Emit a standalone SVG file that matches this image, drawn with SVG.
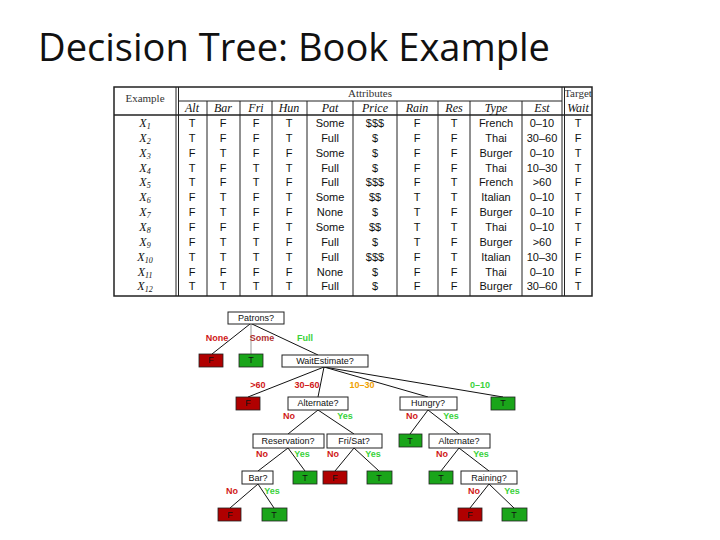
<svg xmlns="http://www.w3.org/2000/svg" width="720" height="540" viewBox="0 0 720 540">
<style>
.t{font-family:"Liberation Sans",Arial,sans-serif;font-size:11px;text-anchor:middle;fill:#111}
.h{font-family:"Liberation Serif",serif;font-size:12px;font-style:italic;text-anchor:middle;fill:#111}
.hs{font-family:"Liberation Serif",serif;font-size:11px;text-anchor:middle;fill:#333}
.b{fill:#fff;stroke:#222;stroke-width:1}
.n{font-family:"Liberation Sans",Arial,sans-serif;font-size:9px;text-anchor:middle;fill:#111}
.lr{fill:#b00000;stroke:#222;stroke-width:0.8}
.lg{fill:#1aa51a;stroke:#222;stroke-width:0.8}
.lab{font-family:"Liberation Sans",Arial,sans-serif;font-size:9px;font-weight:bold;text-anchor:middle}
.red{fill:#d01818}.grn{fill:#3ad23a}.org{fill:#f0a000}.brn{fill:#b03030}
.ln{stroke:#111;stroke-width:1;fill:none}
</style>
<rect width="720" height="540" fill="#fff"/>
<text x="38" y="61" font-family="'Open Sans','Liberation Sans',sans-serif" font-size="38" fill="#111" textLength="512" lengthAdjust="spacingAndGlyphs">Decision Tree: Book Example</text>

<g id="table">
<rect x="114" y="87" width="478" height="209" fill="#fff" stroke="#222" stroke-width="1.5"/>
<g stroke="#222" stroke-width="1">
<line x1="176" y1="87" x2="176" y2="296"/><line x1="178.5" y1="87" x2="178.5" y2="296"/>
<line x1="562" y1="87" x2="562" y2="296"/><line x1="564.5" y1="87" x2="564.5" y2="296"/>
<line x1="178" y1="101" x2="562" y2="101"/>
<line x1="114" y1="115" x2="592" y2="115" stroke-width="1.5"/>
<line x1="207" y1="101" x2="207" y2="296"/><line x1="240" y1="101" x2="240" y2="296"/>
<line x1="272" y1="101" x2="272" y2="296"/><line x1="307" y1="101" x2="307" y2="296"/>
<line x1="353" y1="101" x2="353" y2="296"/><line x1="397" y1="101" x2="397" y2="296"/>
<line x1="438" y1="101" x2="438" y2="296"/><line x1="470" y1="101" x2="470" y2="296"/>
<line x1="522" y1="101" x2="522" y2="296"/>
</g>
<text class="hs" x="145" y="102">Example</text>
<text class="hs" x="370" y="97">Attributes</text>
<text class="hs" x="578" y="97" font-size="10">Target</text>
<g class="h">
<text x="192" y="112">Alt</text><text x="223" y="112">Bar</text><text x="256" y="112">Fri</text><text x="289" y="112">Hun</text><text x="330" y="112">Pat</text><text x="375" y="112">Price</text><text x="417" y="112">Rain</text><text x="454" y="112">Res</text><text x="496" y="112">Type</text><text x="542" y="112">Est</text><text x="578" y="112">Wait</text>
</g>
<g class="h" font-size="12">
<text x="145" y="127">X<tspan font-size="8" dy="2">1</tspan></text>
<text x="145" y="142">X<tspan font-size="8" dy="2">2</tspan></text>
<text x="145" y="157">X<tspan font-size="8" dy="2">3</tspan></text>
<text x="145" y="172">X<tspan font-size="8" dy="2">4</tspan></text>
<text x="145" y="186">X<tspan font-size="8" dy="2">5</tspan></text>
<text x="145" y="201">X<tspan font-size="8" dy="2">6</tspan></text>
<text x="145" y="216">X<tspan font-size="8" dy="2">7</tspan></text>
<text x="145" y="231">X<tspan font-size="8" dy="2">8</tspan></text>
<text x="145" y="246">X<tspan font-size="8" dy="2">9</tspan></text>
<text x="145" y="261">X<tspan font-size="8" dy="2">10</tspan></text>
<text x="145" y="276">X<tspan font-size="8" dy="2">11</tspan></text>
<text x="145" y="290">X<tspan font-size="8" dy="2">12</tspan></text>
</g>
<g class="t">
<text y="127"><tspan x="192">T</tspan><tspan x="223">F</tspan><tspan x="256">F</tspan><tspan x="289">T</tspan><tspan x="330">Some</tspan><tspan x="375">$$$</tspan><tspan x="417">F</tspan><tspan x="454">T</tspan><tspan x="496">French</tspan><tspan x="542">0–10</tspan><tspan x="578">T</tspan></text>
<text y="142"><tspan x="192">T</tspan><tspan x="223">F</tspan><tspan x="256">F</tspan><tspan x="289">T</tspan><tspan x="330">Full</tspan><tspan x="375">$</tspan><tspan x="417">F</tspan><tspan x="454">F</tspan><tspan x="496">Thai</tspan><tspan x="542">30–60</tspan><tspan x="578">F</tspan></text>
<text y="157"><tspan x="192">F</tspan><tspan x="223">T</tspan><tspan x="256">F</tspan><tspan x="289">F</tspan><tspan x="330">Some</tspan><tspan x="375">$</tspan><tspan x="417">F</tspan><tspan x="454">F</tspan><tspan x="496">Burger</tspan><tspan x="542">0–10</tspan><tspan x="578">T</tspan></text>
<text y="172"><tspan x="192">T</tspan><tspan x="223">F</tspan><tspan x="256">T</tspan><tspan x="289">T</tspan><tspan x="330">Full</tspan><tspan x="375">$</tspan><tspan x="417">F</tspan><tspan x="454">F</tspan><tspan x="496">Thai</tspan><tspan x="542">10–30</tspan><tspan x="578">T</tspan></text>
<text y="186"><tspan x="192">T</tspan><tspan x="223">F</tspan><tspan x="256">T</tspan><tspan x="289">F</tspan><tspan x="330">Full</tspan><tspan x="375">$$$</tspan><tspan x="417">F</tspan><tspan x="454">T</tspan><tspan x="496">French</tspan><tspan x="542">&gt;60</tspan><tspan x="578">F</tspan></text>
<text y="201"><tspan x="192">F</tspan><tspan x="223">T</tspan><tspan x="256">F</tspan><tspan x="289">T</tspan><tspan x="330">Some</tspan><tspan x="375">$$</tspan><tspan x="417">T</tspan><tspan x="454">T</tspan><tspan x="496">Italian</tspan><tspan x="542">0–10</tspan><tspan x="578">T</tspan></text>
<text y="216"><tspan x="192">F</tspan><tspan x="223">T</tspan><tspan x="256">F</tspan><tspan x="289">F</tspan><tspan x="330">None</tspan><tspan x="375">$</tspan><tspan x="417">T</tspan><tspan x="454">F</tspan><tspan x="496">Burger</tspan><tspan x="542">0–10</tspan><tspan x="578">F</tspan></text>
<text y="231"><tspan x="192">F</tspan><tspan x="223">F</tspan><tspan x="256">F</tspan><tspan x="289">T</tspan><tspan x="330">Some</tspan><tspan x="375">$$</tspan><tspan x="417">T</tspan><tspan x="454">T</tspan><tspan x="496">Thai</tspan><tspan x="542">0–10</tspan><tspan x="578">T</tspan></text>
<text y="246"><tspan x="192">F</tspan><tspan x="223">T</tspan><tspan x="256">T</tspan><tspan x="289">F</tspan><tspan x="330">Full</tspan><tspan x="375">$</tspan><tspan x="417">T</tspan><tspan x="454">F</tspan><tspan x="496">Burger</tspan><tspan x="542">&gt;60</tspan><tspan x="578">F</tspan></text>
<text y="261"><tspan x="192">T</tspan><tspan x="223">T</tspan><tspan x="256">T</tspan><tspan x="289">T</tspan><tspan x="330">Full</tspan><tspan x="375">$$$</tspan><tspan x="417">F</tspan><tspan x="454">T</tspan><tspan x="496">Italian</tspan><tspan x="542">10–30</tspan><tspan x="578">F</tspan></text>
<text y="276"><tspan x="192">F</tspan><tspan x="223">F</tspan><tspan x="256">F</tspan><tspan x="289">F</tspan><tspan x="330">None</tspan><tspan x="375">$</tspan><tspan x="417">F</tspan><tspan x="454">F</tspan><tspan x="496">Thai</tspan><tspan x="542">0–10</tspan><tspan x="578">F</tspan></text>
<text y="290"><tspan x="192">T</tspan><tspan x="223">T</tspan><tspan x="256">T</tspan><tspan x="289">T</tspan><tspan x="330">Full</tspan><tspan x="375">$</tspan><tspan x="417">F</tspan><tspan x="454">F</tspan><tspan x="496">Burger</tspan><tspan x="542">30–60</tspan><tspan x="578">T</tspan></text>
</g>
</g>

<g id="connectors" class="ln">
<line x1="250" y1="324" x2="212" y2="354"/>
<line x1="251" y1="324" x2="251" y2="354" stroke="#999"/>
<line x1="252" y1="324" x2="318" y2="355"/>
<line x1="324" y1="367" x2="248" y2="397"/>
<line x1="324" y1="367" x2="318" y2="397"/>
<line x1="324" y1="367" x2="428" y2="397"/>
<line x1="324" y1="367" x2="503" y2="397"/>
<line x1="318" y1="410" x2="288" y2="434"/>
<line x1="318" y1="410" x2="354" y2="434"/>
<line x1="428" y1="410" x2="410" y2="434"/>
<line x1="428" y1="410" x2="459" y2="434"/>
<line x1="288" y1="448" x2="258" y2="471"/>
<line x1="288" y1="448" x2="305" y2="471"/>
<line x1="354" y1="448" x2="335" y2="471"/>
<line x1="354" y1="448" x2="379" y2="471"/>
<line x1="459" y1="448" x2="441" y2="471"/>
<line x1="459" y1="448" x2="489" y2="471"/>
<line x1="258" y1="484" x2="230" y2="508"/>
<line x1="258" y1="484" x2="274" y2="508"/>
<line x1="489" y1="484" x2="470" y2="508"/>
<line x1="489" y1="484" x2="514" y2="508"/>
</g>

<g id="edge-labels" class="lab">
<text class="red" x="217" y="341">None</text><text class="brn" x="262" y="341">Some</text><text class="grn" x="305" y="341">Full</text>
<text class="red" x="258" y="388">&gt;60</text><text class="red" x="307" y="388">30–60</text><text class="org" x="362" y="388">10–30</text><text class="grn" x="480" y="388">0–10</text>
<text class="red" x="289" y="419">No</text><text class="grn" x="345" y="419">Yes</text>
<text class="red" x="412" y="419">No</text><text class="grn" x="451" y="419">Yes</text>
<text class="red" x="262" y="457">No</text><text class="grn" x="302" y="457">Yes</text>
<text class="red" x="333" y="457">No</text><text class="grn" x="373" y="457">Yes</text>
<text class="red" x="442" y="457">No</text><text class="grn" x="481" y="457">Yes</text>
<text class="red" x="232" y="494">No</text><text class="grn" x="272" y="494">Yes</text>
<text class="red" x="474" y="494">No</text><text class="grn" x="512" y="494">Yes</text>
</g>

<g id="patrons"><rect class="b" x="228" y="312" width="56" height="12"/><text class="n" x="256" y="321">Patrons?</text></g>
<g id="leaf-none"><rect class="lr" x="199" y="354" width="24" height="13"/><text class="n" x="211" y="363">F</text></g>
<g id="leaf-some"><rect class="lg" x="239" y="354" width="24" height="13"/><text class="n" x="251" y="363">T</text></g>
<g id="waitest"><rect class="b" x="282" y="355" width="86" height="12"/><text class="n" x="325" y="364">WaitEstimate?</text></g>
<g id="leaf-60"><rect class="lr" x="236" y="397" width="24" height="13"/><text class="n" x="248" y="406">F</text></g>
<g id="alt1"><rect class="b" x="288" y="397" width="60" height="13"/><text class="n" x="318" y="406">Alternate?</text></g>
<g id="hungry"><rect class="b" x="400" y="397" width="57" height="13"/><text class="n" x="428" y="406">Hungry?</text></g>
<g id="leaf-010"><rect class="lg" x="491" y="397" width="24" height="13"/><text class="n" x="503" y="406">T</text></g>
<g id="reservation"><rect class="b" x="253" y="434" width="71" height="14"/><text class="n" x="288" y="444">Reservation?</text></g>
<g id="frisat"><rect class="b" x="327" y="434" width="55" height="14"/><text class="n" x="354" y="444">Fri/Sat?</text></g>
<g id="leaf-hno"><rect class="lg" x="399" y="434" width="23" height="13"/><text class="n" x="410" y="444">T</text></g>
<g id="alt2"><rect class="b" x="429" y="434" width="61" height="14"/><text class="n" x="459" y="444">Alternate?</text></g>
<g id="bar"><rect class="b" x="242" y="471" width="31" height="13"/><text class="n" x="258" y="481">Bar?</text></g>
<g id="leaf-resyes"><rect class="lg" x="293" y="471" width="24" height="13"/><text class="n" x="305" y="481">T</text></g>
<g id="leaf-frino"><rect class="lr" x="323" y="471" width="24" height="13"/><text class="n" x="335" y="481">F</text></g>
<g id="leaf-friyes"><rect class="lg" x="367" y="471" width="25" height="13"/><text class="n" x="379" y="481">T</text></g>
<g id="leaf-altno"><rect class="lg" x="429" y="471" width="24" height="13"/><text class="n" x="441" y="481">T</text></g>
<g id="raining"><rect class="b" x="461" y="471" width="56" height="13"/><text class="n" x="489" y="481">Raining?</text></g>
<g id="leaf-barno"><rect class="lr" x="218" y="508" width="23" height="13"/><text class="n" x="230" y="518">F</text></g>
<g id="leaf-baryes"><rect class="lg" x="262" y="508" width="25" height="13"/><text class="n" x="274" y="518">T</text></g>
<g id="leaf-rainno"><rect class="lr" x="458" y="508" width="24" height="13"/><text class="n" x="470" y="518">F</text></g>
<g id="leaf-rainyes"><rect class="lg" x="502" y="508" width="25" height="13"/><text class="n" x="514" y="518">T</text></g>
</svg>
